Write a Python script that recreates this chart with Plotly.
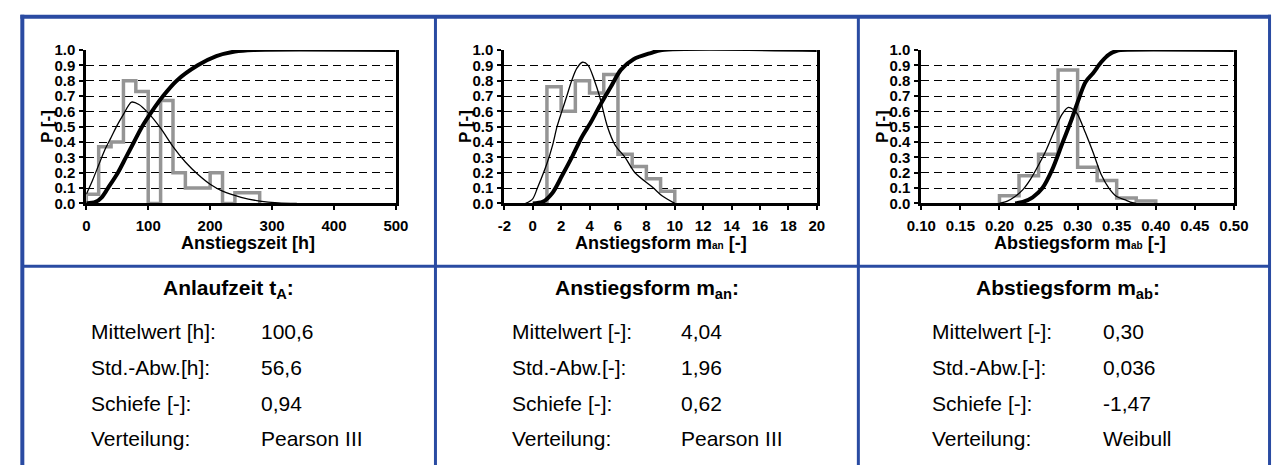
import plotly.graph_objects as go

W, H = 1286, 471

# ---------------- data ----------------
# Panel 1: Anstiegszeit [h]
t_edges = [0, 20, 40, 60, 80, 100, 120, 140, 160, 180, 200, 220, 240, 260, 280]
t_freq = [0.06, 0.37, 0.40, 0.80, 0.73, 0.00, 0.67, 0.20, 0.10, 0.10, 0.20, 0.00, 0.07, 0.07]
t_pdf_x = [0, 10, 20, 30, 40, 50, 60, 73, 85, 100, 120, 140, 160, 180, 200, 220, 250, 280, 310, 340]
t_pdf_y = [0.06, 0.15, 0.25, 0.35, 0.43, 0.51, 0.58, 0.66, 0.645, 0.59, 0.49, 0.37, 0.27, 0.19, 0.125, 0.08, 0.04, 0.015, 0.003, 0.0]
t_cdf_x = [0, 15, 25, 35, 51, 64, 77, 90, 106, 124, 146, 180, 210, 240, 270, 500]
t_cdf_y = [0.0, 0.01, 0.04, 0.10, 0.20, 0.30, 0.40, 0.50, 0.60, 0.70, 0.80, 0.90, 0.96, 0.99, 1.0, 1.0]
t_ticks = [0, 100, 200, 300, 400, 500]
t_ticklabels = ["0", "100", "200", "300", "400", "500"]

# Panel 2: Anstiegsform m_an [-]
an_edges = [1, 2, 3, 4, 5, 6, 7, 8, 9, 10]
an_freq = [0.76, 0.60, 0.80, 0.72, 0.84, 0.32, 0.24, 0.16, 0.08]
an_pdf_x = [-0.5, 0.0, 0.33, 1.0, 1.4, 1.71, 2.05, 2.4, 2.74, 3.1, 3.5, 3.9, 4.35, 4.7, 5.26, 5.8, 6.5, 7.2, 8.5, 9.1, 10.0]
an_pdf_y = [0.0, 0.03, 0.10, 0.26, 0.38, 0.50, 0.60, 0.70, 0.80, 0.88, 0.92, 0.90, 0.80, 0.70, 0.50, 0.38, 0.30, 0.20, 0.10, 0.05, 0.0]
an_cdf_x = [0.0, 0.7, 1.4, 2.06, 2.75, 3.44, 4.1, 4.8, 5.5, 6.2, 7.1, 8.3, 9.1, 20.0]
an_cdf_y = [0.0, 0.01, 0.07, 0.18, 0.30, 0.43, 0.53, 0.65, 0.76, 0.87, 0.94, 0.98, 1.0, 1.0]
an_ticks = [-2, 0, 2, 4, 6, 8, 10, 12, 14, 16, 18, 20]
an_ticklabels = ["-2", "0", "2", "4", "6", "8", "10", "12", "14", "16", "18", "20"]

# Panel 3: Abstiegsform m_ab [-]
ab_edges = [0.200, 0.225, 0.250, 0.275, 0.300, 0.325, 0.350, 0.375, 0.400]
ab_freq = [0.05, 0.18, 0.32, 0.87, 0.235, 0.15, 0.035, 0.015]
ab_pdf_x = [0.20, 0.21, 0.22, 0.23, 0.24, 0.25, 0.26, 0.27, 0.28, 0.2875, 0.295, 0.30, 0.31, 0.32, 0.33, 0.34, 0.35, 0.36, 0.37, 0.375]
ab_pdf_y = [0.0, 0.015, 0.045, 0.09, 0.16, 0.25, 0.35, 0.47, 0.58, 0.625, 0.61, 0.58, 0.46, 0.33, 0.19, 0.10, 0.045, 0.025, 0.005, 0.0]
ab_cdf_x = [0.22, 0.23, 0.2425, 0.255, 0.2675, 0.28, 0.2925, 0.30, 0.31, 0.32, 0.33, 0.34, 0.35, 0.355, 0.50]
ab_cdf_y = [0.0, 0.01, 0.04, 0.10, 0.22, 0.385, 0.55, 0.66, 0.79, 0.85, 0.92, 0.97, 0.995, 1.0, 1.0]
ab_ticks = [0.10, 0.15, 0.20, 0.25, 0.30, 0.35, 0.40, 0.45, 0.50]
ab_ticklabels = ["0.10", "0.15", "0.20", "0.25", "0.30", "0.35", "0.40", "0.45", "0.50"]

p_ticks = [0.0, 0.1, 0.2, 0.3, 0.4, 0.5, 0.6, 0.7, 0.8, 0.9, 1.0]
p_ticklabels = ["0.0", "0.1", "0.2", "0.3", "0.4", "0.5", "0.6", "0.7", "0.8", "0.9", "1.0"]

x_ranges = [[0, 500], [-2, 20], [0.10, 0.50]]
x_titles = [
    "<b>Anstiegszeit [h]</b>",
    "<b>Anstiegsform m<span style='font-size:10px'>an</span> [-]</b>",
    "<b>Abstiegsform m<span style='font-size:10px'>ab</span> [-]</b>",
]

table_titles = ["<b>Anlaufzeit t<sub>A</sub>:</b>", "<b>Anstiegsform m<sub>an</sub>:</b>", "<b>Abstiegsform m<sub>ab</sub>:</b>"]
table_labels = [
    ["Mittelwert [h]:", "Std.-Abw.[h]:", "Schiefe [-]:", "Verteilung:"],
    ["Mittelwert [-]:", "Std.-Abw.[-]:", "Schiefe [-]:", "Verteilung:"],
    ["Mittelwert [-]:", "Std.-Abw.[-]:", "Schiefe [-]:", "Verteilung:"],
]
table_values = [
    ["100,6", "56,6", "0,94", "Pearson III"],
    ["4,04", "1,96", "0,62", "Pearson III"],
    ["0,30", "0,036", "-1,47", "Weibull"],
]

# ---------------- layout geometry (pixels) ----------------
plot_x = [(73, 390), (501, 821), (928, 1248)]
plot_y = (42.5, 201.7)
ytitle_x = [33, 461, 888]
xtitle_x = [239, 661, 1090]
xtitle_y = 243
col_center = [219, 647, 1078]
label_x = [76, 507, 937]
value_x = [250, 680, 1112]
title_y = 290
row_y = [335, 372, 409, 446]

BLUE = "#2a4ba2"
GREY = "#959595"
TEXTFONT = "Liberation Sans, Arial, sans-serif"
TICKFONT = dict(family=TEXTFONT, size=15, color="black")


def px_x(v):
    return v / W


def px_y(v):
    return 1 - v / H


def bold(labels):
    return ["<b>%s</b>" % s for s in labels]


fig = go.Figure()

panels = [
    (t_edges, t_freq, t_pdf_x, t_pdf_y, t_cdf_x, t_cdf_y, t_ticks, t_ticklabels),
    (an_edges, an_freq, an_pdf_x, an_pdf_y, an_cdf_x, an_cdf_y, an_ticks, an_ticklabels),
    (ab_edges, ab_freq, ab_pdf_x, ab_pdf_y, ab_cdf_x, ab_cdf_y, ab_ticks, ab_ticklabels),
]

for i, (edges, freq, px_, py_, cx, cy, tv, tt) in enumerate(panels):
    n = "" if i == 0 else str(i + 1)
    xa, ya = "x" + n, "y" + n
    step_x = [edges[0]] + list(edges)
    step_y = [0] + list(freq) + [0]
    fig.add_trace(go.Scatter(x=step_x, y=step_y, mode="lines", line=dict(color=GREY, width=3.5, shape="hv"),
                             xaxis=xa, yaxis=ya, showlegend=False, cliponaxis=False, hoverinfo="skip"))
    fig.add_trace(go.Scatter(x=px_, y=py_, mode="lines", line=dict(color="black", width=1.3, shape="spline", smoothing=0.8),
                             xaxis=xa, yaxis=ya, showlegend=False, cliponaxis=False, hoverinfo="skip"))
    fig.add_trace(go.Scatter(x=cx, y=cy, mode="lines", line=dict(color="black", width=4, shape="spline", smoothing=0.8),
                             xaxis=xa, yaxis=ya, showlegend=False, cliponaxis=False, hoverinfo="skip"))

    x0, x1 = plot_x[i]
    fig.update_layout(**{
        "xaxis" + n: dict(domain=[px_x(x0), px_x(x1)], anchor=ya, range=x_ranges[i],
                          tickmode="array", tickvals=tv, ticktext=bold(tt),
                          showgrid=False, zeroline=False, showline=True, linecolor="black",
                          linewidth=3, ticks="outside", ticklen=4, tickwidth=2, tickcolor="black", tickfont=TICKFONT,
                          ticklabelstandoff=3, fixedrange=True),
        "yaxis" + n: dict(domain=[px_y(plot_y[1]), px_y(plot_y[0])], anchor=xa, range=[0, 1],
                          tickmode="array", tickvals=p_ticks, ticktext=bold(p_ticklabels),
                          showgrid=True, gridcolor="black", gridwidth=1, griddash="8px,5px",
                          zeroline=False, showline=True, mirror=True, linecolor="black", linewidth=3,
                          ticks="outside", ticklen=4, tickwidth=2, tickcolor="black", tickfont=TICKFONT,
                          ticklabelstandoff=1, fixedrange=True),
    })

annotations = []
for i in range(3):
    annotations.append(dict(text="<b>P [-]</b>", x=px_x(ytitle_x[i]), y=px_y((plot_y[0] + plot_y[1]) / 2),
                            xref="paper", yref="paper", showarrow=False, textangle=-90,
                            font=dict(family=TEXTFONT, size=17, color="black"), xanchor="center", yanchor="middle"))
    annotations.append(dict(text=x_titles[i], x=px_x(xtitle_x[i]), y=px_y(xtitle_y), xref="paper", yref="paper",
                            showarrow=False, font=dict(family=TEXTFONT, size=18, color="black"),
                            xanchor="center", yanchor="middle"))
    annotations.append(dict(text=table_titles[i], x=px_x(col_center[i]), y=px_y(title_y), xref="paper", yref="paper",
                            showarrow=False, font=dict(family=TEXTFONT, size=21, color="black"),
                            xanchor="center", yanchor="middle"))
    for r in range(4):
        annotations.append(dict(text=table_labels[i][r], x=px_x(label_x[i]), y=px_y(row_y[r]), xref="paper",
                                yref="paper", showarrow=False, font=dict(family=TEXTFONT, size=21, color="black"),
                                xanchor="left", yanchor="middle"))
        annotations.append(dict(text=table_values[i][r], x=px_x(value_x[i]), y=px_y(row_y[r]), xref="paper",
                                yref="paper", showarrow=False, font=dict(family=TEXTFONT, size=21, color="black"),
                                xanchor="left", yanchor="middle"))

shapes = []


def hline(y, x0, x1, w, color=BLUE):
    shapes.append(dict(type="line", xref="paper", yref="paper", x0=px_x(x0), x1=px_x(x1), y0=px_y(y), y1=px_y(y),
                       line=dict(color=color, width=w), layer="above"))


def vline(x, y0, y1, w, color=BLUE):
    shapes.append(dict(type="line", xref="paper", yref="paper", x0=px_x(x), x1=px_x(x), y0=px_y(y0), y1=px_y(y1),
                       line=dict(color=color, width=w), layer="above"))


vline(7.5, 6, H + 2, 4)
hline(8, 5.5, 1286, 4)
vline(1284.5, 6, H + 2, 3)
vline(430.5, 8, H + 2, 3)
vline(863.5, 8, H + 2, 3)
hline(267, 7.5, 1284.5, 3)

fig.update_layout(width=W, height=H, margin=dict(l=0, r=0, t=0, b=0), paper_bgcolor="white", plot_bgcolor="white",
                  annotations=annotations, shapes=shapes, showlegend=False)

POST = ("var gd=document.getElementById('{plot_id}');"
        "document.documentElement.style.margin='0';document.documentElement.style.padding='0';"
        "document.documentElement.style.overflow='hidden';"
        "document.body.style.margin='0';document.body.style.padding='0';document.body.style.overflow='hidden';"
        "gd.style.position='fixed';gd.style.left='0px';gd.style.top='0px';")

fig.write_html("out.html", config={"displayModeBar": False, "staticPlot": True}, post_script=POST)
